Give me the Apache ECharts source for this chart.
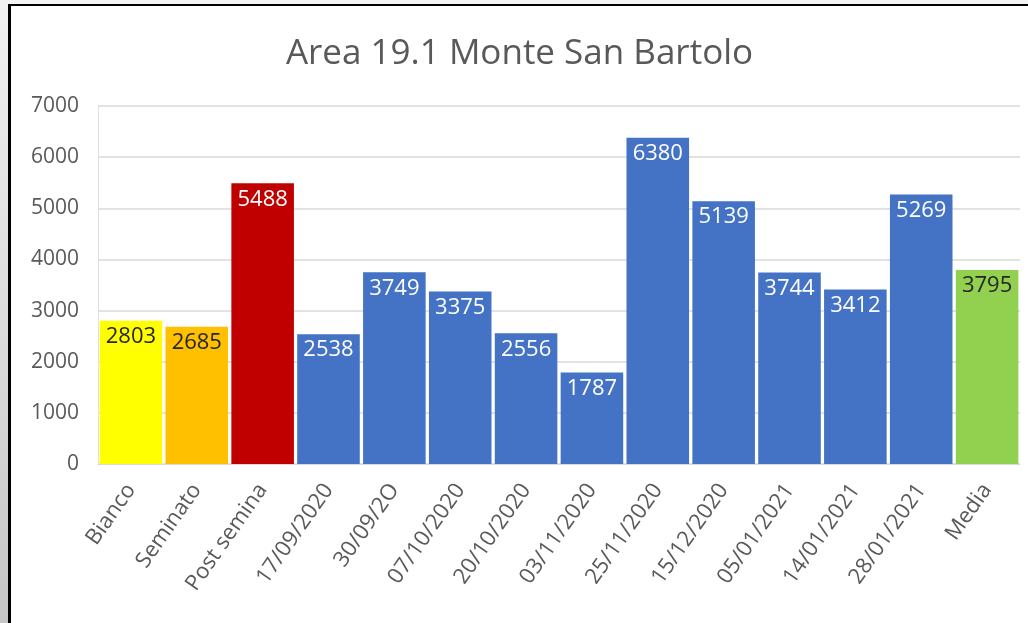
<!DOCTYPE html>
<html>
<head>
<meta charset="utf-8">
<script src="https://cdn.jsdelivr.net/npm/echarts@6/dist/echarts.min.js"></script>
<style>
  html, body { margin: 0; padding: 0; width: 1028px; height: 623px; overflow: hidden; background: #f4f4f4; }
  #strip { position: absolute; left: 0; top: 0; width: 8px; height: 623px; background: linear-gradient(#f2f2f2, #c6c6c6); }
  #frame { position: absolute; left: 8px; top: 4px; width: 1020px; height: 619px; background: #000; }
  #chart { position: absolute; left: 11px; top: 6px; width: 1017px; height: 617px; background: #fff; }
</style>
</head>
<body>
<div id="strip"></div>
<div id="frame"></div>
<div id="chart"></div>
<script>
const categories = ["Bianco", "Seminato", "Post semina", "17/09/2020", "30/09/2O", "07/10/2020", "20/10/2020", "03/11/2020", "25/11/2020", "15/12/2020", "05/01/2021", "14/01/2021", "28/01/2021", "Media"];
const values = [2803, 2685, 5488, 2538, 3749, 3375, 2556, 1787, 6380, 5139, 3744, 3412, 5269, 3795];
const barColors = ["#FFFF00", "#FFC000", "#C00000", "#4472C4", "#4472C4", "#4472C4", "#4472C4", "#4472C4", "#4472C4", "#4472C4", "#4472C4", "#4472C4", "#4472C4", "#92D050"];
const labelColors = ["#262626", "#262626", "#FFFFFF", "#FFFFFF", "#FFFFFF", "#FFFFFF", "#FFFFFF", "#FFFFFF", "#FFFFFF", "#FFFFFF", "#FFFFFF", "#FFFFFF", "#FFFFFF", "#262626"];
const yTicks = { min: 0, max: 7000, interval: 1000 };
const titleText = "Area 19.1 Monte San Bartolo";

const chart = echarts.init(document.getElementById('chart'), null, { renderer: 'canvas' });
const FONT = '"Open Sans", sans-serif';
chart.setOption({
  animation: false,
  backgroundColor: '#ffffff',
  title: {
    text: titleText,
    left: 'center',
    top: 26,
    textStyle: { fontFamily: FONT, fontSize: 35, fontWeight: 'normal', color: '#595959' }
  },
  grid: { left: 87, right: 8, top: 100, bottom: 159, containLabel: false },
  xAxis: {
    type: 'category',
    data: categories,
    axisLine: { show: true, lineStyle: { color: '#d9d9d9', width: 1 } },
    axisTick: { show: false },
    axisLabel: { rotate: 55, margin: 22, interval: 0, fontFamily: FONT, fontSize: 22, color: '#595959' }
  },
  yAxis: {
    type: 'value',
    min: yTicks.min, max: yTicks.max, interval: yTicks.interval,
    axisLine: { show: true, lineStyle: { color: '#e0e0e0', width: 1 } },
    axisTick: { show: false },
    splitLine: { lineStyle: { color: '#d9d9d9', width: 1.5 } },
    axisLabel: { margin: 19, fontFamily: FONT, fontSize: 21, color: '#595959', formatter: v => String(v) }
  },
  series: [{
    type: 'bar',
    barCategoryGap: '5%',
    data: values.map((v, i) => ({
      value: v,
      itemStyle: { color: barColors[i] },
      label: { color: labelColors[i] }
    })),
    label: {
      show: true,
      position: 'insideTop',
      distance: 5,
      fontFamily: FONT,
      fontSize: 22
    }
  }]
});
</script>
</body>
</html>
